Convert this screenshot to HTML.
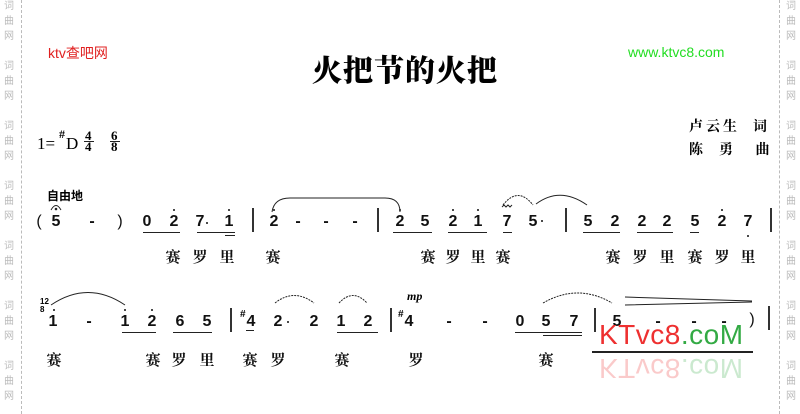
<!DOCTYPE html>
<html><head><meta charset="utf-8"><style>
body{margin:0;width:800px;height:414px;background:#fff;position:relative;overflow:hidden;font-family:"Liberation Sans","Noto Sans CJK SC",sans-serif}
.a{position:absolute;white-space:nowrap}
.n{position:absolute;transform:translateX(-50%);font:bold 16px "Liberation Sans",sans-serif;line-height:18px;color:#111}
.l{position:absolute;transform:translateX(-50%);font:bold 15px "Noto Serif CJK SC","Noto Sans CJK SC",serif;line-height:16px;color:#111}
.w{position:absolute;font:10px "Noto Sans CJK SC",sans-serif;color:#bbb;line-height:10px}
.u{position:absolute;height:1px;background:#222}
.b{position:absolute;width:1.5px;background:#333}
.d{position:absolute;width:2px;height:2px;background:#111;border-radius:1px}
.vd{position:absolute;top:0;height:414px;border-left:1px dashed #bbb}
</style></head><body>
<div class="vd" style="left:21px"></div><div class="vd" style="left:779px"></div>
<div id="wm"></div>
<div class="a" style="left:48px;top:43px;color:#e02020;font-size:14px">ktv查吧网</div>
<div class="a" style="left:628px;top:44px;color:#22dd22;font-size:14px;font-family:'Liberation Sans',sans-serif">www.ktvc8.com</div>
<div class="a" style="left:312px;top:46px;font:900 30px 'Noto Serif CJK SC','Noto Sans CJK SC',serif;letter-spacing:1px;color:#000">火把节的火把</div>
<div class="a" style="left:37px;top:134px;font:17px 'Liberation Serif',serif">1=</div>
<div class="a" style="left:59px;top:127px;font:bold 12px 'Liberation Serif',serif">#</div>
<div class="a" style="left:66px;top:134px;font:17px 'Liberation Serif',serif">D</div>
<div class="a" style="left:85px;top:130px;font:bold 13px 'Liberation Serif',serif;line-height:11px;text-align:center">4<br>4</div>
<div class="u" style="left:84px;top:141px;width:10px"></div>
<div class="a" style="left:111px;top:130px;font:bold 13px 'Liberation Serif',serif;line-height:11px;text-align:center">6<br>8</div>
<div class="u" style="left:110px;top:141px;width:10px"></div>
<div class="a" style="left:689px;top:116px;font:bold 14px 'Noto Serif CJK SC',serif;letter-spacing:3px">卢云生 &nbsp;词</div>
<div class="a" style="left:689px;top:139px;font:bold 14px 'Noto Serif CJK SC',serif;letter-spacing:3px">陈 &nbsp;勇 &nbsp;&nbsp;曲</div>
<div class="a" style="left:47px;top:187px;font:bold 12px 'Noto Sans CJK SC',sans-serif">自由地</div>

<div class="n" style="left:39px;top:213px;font-weight:normal">(</div>
<div class="n" style="left:56px;top:213px">5</div>
<div class="n" style="left:92px;top:213px">-</div>
<div class="n" style="left:120px;top:213px;font-weight:normal">)</div>
<div class="n" style="left:147px;top:213px">0</div>
<div class="n" style="left:174px;top:213px">2</div>
<div class="n" style="left:200px;top:213px">7</div>
<div class="d" style="left:206px;top:222px"></div>
<div class="n" style="left:229px;top:213px">1</div>
<div class="b" style="left:252px;top:208px;height:24px"></div>
<div class="n" style="left:274px;top:213px">2</div>
<div class="n" style="left:298px;top:213px">-</div>
<div class="n" style="left:326px;top:213px">-</div>
<div class="n" style="left:355px;top:213px">-</div>
<div class="b" style="left:377px;top:208px;height:24px"></div>
<div class="n" style="left:400px;top:213px">2</div>
<div class="n" style="left:425px;top:213px">5</div>
<div class="n" style="left:453px;top:213px">2</div>
<div class="n" style="left:478px;top:213px">1</div>
<div class="n" style="left:507px;top:213px">7</div>
<div class="n" style="left:533px;top:213px">5</div>
<div class="d" style="left:541px;top:220px"></div>
<div class="b" style="left:565px;top:208px;height:24px"></div>
<div class="n" style="left:588px;top:213px">5</div>
<div class="n" style="left:615px;top:213px">2</div>
<div class="n" style="left:642px;top:213px">2</div>
<div class="n" style="left:667px;top:213px">2</div>
<div class="n" style="left:695px;top:213px">5</div>
<div class="n" style="left:722px;top:213px">2</div>
<div class="n" style="left:748px;top:213px">7</div>
<div class="b" style="left:770px;top:208px;height:24px"></div>
<div class="d" style="left:173px;top:209px"></div><div class="d" style="left:228px;top:209px"></div>
<div class="d" style="left:273px;top:209px"></div><div class="d" style="left:399px;top:209px"></div>
<div class="d" style="left:452px;top:209px"></div><div class="d" style="left:477px;top:209px"></div>
<div class="d" style="left:721px;top:209px"></div><div class="d" style="left:747px;top:235px"></div>
<div class="u" style="left:143px;top:232px;width:37px"></div>
<div class="u" style="left:197px;top:232px;width:38px"></div>
<div class="u" style="left:225px;top:235px;width:10px"></div>
<div class="u" style="left:393px;top:232px;width:39px"></div>
<div class="u" style="left:448px;top:232px;width:39px"></div>
<div class="u" style="left:503px;top:232px;width:9px"></div>
<div class="u" style="left:583px;top:232px;width:37px"></div>
<div class="u" style="left:637px;top:232px;width:36px"></div>
<div class="u" style="left:690px;top:232px;width:9px"></div>

<div class="a" style="left:40px;top:298px;font:bold 8px 'Liberation Sans';line-height:8px">12<br>8</div>
<div class="n" style="left:53px;top:313px">1</div>
<div class="n" style="left:89px;top:313px">-</div>
<div class="n" style="left:125px;top:313px">1</div>
<div class="n" style="left:152px;top:313px">2</div>
<div class="n" style="left:180px;top:313px">6</div>
<div class="n" style="left:207px;top:313px">5</div>
<div class="b" style="left:230px;top:308px;height:24px"></div>
<div class="a" style="left:240px;top:309px;font:bold 10px 'Liberation Sans'">#</div>
<div class="n" style="left:251px;top:313px">4</div>
<div class="n" style="left:278px;top:313px">2</div>
<div class="d" style="left:287px;top:321px"></div>
<div class="n" style="left:314px;top:313px">2</div>
<div class="n" style="left:341px;top:313px">1</div>
<div class="n" style="left:368px;top:313px">2</div>
<div class="b" style="left:390px;top:308px;height:24px"></div>
<div class="a" style="left:398px;top:309px;font:bold 10px 'Liberation Sans'">#</div>
<div class="n" style="left:409px;top:313px">4</div>
<div class="a" style="left:407px;top:289px;font:bold italic 12px 'Liberation Serif',serif">mp</div>
<div class="n" style="left:449px;top:313px">-</div>
<div class="n" style="left:485px;top:313px">-</div>
<div class="n" style="left:520px;top:313px">0</div>
<div class="n" style="left:546px;top:313px">5</div>
<div class="n" style="left:574px;top:313px">7</div>
<div class="b" style="left:594px;top:308px;height:24px"></div>
<div class="n" style="left:617px;top:313px">5</div>
<div class="n" style="left:658px;top:313px">-</div>
<div class="n" style="left:694px;top:313px">-</div>
<div class="n" style="left:724px;top:313px">-</div>
<div class="n" style="left:752px;top:311px;font-weight:normal">)</div>
<div class="b" style="left:768px;top:306px;height:24px"></div>
<div class="d" style="left:53px;top:309px"></div><div class="d" style="left:124px;top:309px"></div>
<div class="d" style="left:151px;top:309px"></div>
<div class="u" style="left:122px;top:332px;width:34px"></div>
<div class="u" style="left:173px;top:332px;width:39px"></div>
<div class="u" style="left:246px;top:330px;width:8px"></div>
<div class="u" style="left:337px;top:332px;width:41px"></div>
<div class="u" style="left:515px;top:332px;width:67px"></div>
<div class="u" style="left:543px;top:335px;width:39px"></div>

<div class="a" style="left:599px;top:321px;font:28px 'Liberation Sans',sans-serif;line-height:28px;letter-spacing:0.5px"><span style="color:#ee3030">KTvc8</span><span style="color:#33aa44">.coM</span></div>
<div class="u" style="left:592px;top:351px;width:161px;height:2px"></div>
<div class="a" style="left:599px;top:354px;font:28px 'Liberation Sans',sans-serif;line-height:28px;letter-spacing:0.5px;transform:scaleY(-1);opacity:.25"><span style="color:#ee3030">KTvc8</span><span style="color:#33aa44">.coM</span></div>

<svg class="a" style="left:0;top:0" width="800" height="414" fill="none" stroke="#222" stroke-width="1">
<path d="M272 212 Q274 198 290 198 L385 198 Q400 198 400 212"/>
<path d="M503 205 Q518 186 533 205" stroke-dasharray="2,1"/>
<path d="M536 204 Q560 186 587 205"/>
<path d="M51 210 Q56 201 61 210"/><circle cx="56" cy="209" r="0.8" fill="#222"/>
<path d="M502 207 l2 -2 l2 2 l2 -2 l2 2 l2 -2" />
<path d="M51 305 Q88 280 125 305"/>
<path d="M275 303 Q294 288 314 303" stroke-dasharray="2,1"/>
<path d="M339 303 Q353 288 367 303" stroke-dasharray="2,1"/>
<path d="M543 303 Q578 283 612 303" stroke-dasharray="2,1"/>
<path d="M625 297 L752 301 M625 305 L752 302"/>
</svg>
<div class="l" style="left:173px;top:249px">赛</div><div class="l" style="left:200px;top:249px">罗</div><div class="l" style="left:227px;top:249px">里</div><div class="l" style="left:273px;top:249px">赛</div>
<div class="l" style="left:428px;top:249px">赛</div><div class="l" style="left:453px;top:249px">罗</div><div class="l" style="left:478px;top:249px">里</div><div class="l" style="left:503px;top:249px">赛</div>
<div class="l" style="left:613px;top:249px">赛</div><div class="l" style="left:640px;top:249px">罗</div><div class="l" style="left:667px;top:249px">里</div><div class="l" style="left:695px;top:249px">赛</div><div class="l" style="left:722px;top:249px">罗</div><div class="l" style="left:748px;top:249px">里</div>
<div class="l" style="left:54px;top:352px">赛</div><div class="l" style="left:153px;top:352px">赛</div><div class="l" style="left:179px;top:352px">罗</div><div class="l" style="left:207px;top:352px">里</div><div class="l" style="left:250px;top:352px">赛</div><div class="l" style="left:278px;top:352px">罗</div><div class="l" style="left:342px;top:352px">赛</div><div class="l" style="left:416px;top:352px">罗</div><div class="l" style="left:546px;top:352px">赛</div>
<script>
var h='';for(var g=0;g<7;g++){var c=['词','曲','网'];for(var i=0;i<3;i++){var y=g*60+i*15;h+='<div class="w" style="left:4px;top:'+y+'px">'+c[i]+'</div><div class="w" style="left:786px;top:'+y+'px">'+c[i]+'</div>';}}
document.getElementById('wm').innerHTML=h;
</script>
</body></html>
